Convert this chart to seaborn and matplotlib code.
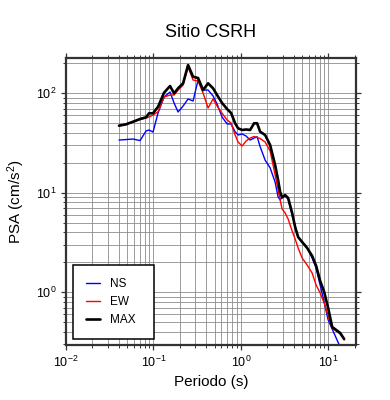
import matplotlib
matplotlib.use("Agg")
import matplotlib.pyplot as plt
import numpy as np
import pandas as pd
import seaborn as sns

# periods (s) and spectral accelerations (cm/s2)
periodo = [0.0404, 0.0486, 0.0584, 0.0703, 0.0823, 0.0891, 0.0989, 0.1129, 0.1322, 0.1548,
           0.1721, 0.1912, 0.2182, 0.2488, 0.2838, 0.3238, 0.3694, 0.4213, 0.4806, 0.5340,
           0.6092, 0.6950, 0.7724, 0.8584, 0.9289, 1.032, 1.147, 1.274, 1.416, 1.532,
           1.659, 1.892, 2.159, 2.462, 2.665, 2.809, 2.961, 3.203, 3.467, 3.853,
           4.170, 4.512, 5.014, 5.720, 6.525, 7.252, 8.058, 8.952, 9.947, 11.05,
           12.28, 13.65, 15.16]

psa_ns = [33.9, 34.3, 34.7, 33.5, 41.8, 42.8, 40.8, 63.4, 91.8, 103.1,
          79.9, 64.9, 74.5, 87.7, 83.7, 136.0, 107.9, 107.9, 94.0, 78.1,
          57.8, 49.2, 49.2, 41.1, 38.1, 39.0, 37.2, 33.9, 35.5, 36.6,
          29.1, 21.3, 17.8, 12.8, 9.07, 8.47, 9.07, 9.29, 8.66, 5.98,
          4.64, 3.59, 3.20, 2.79, 2.21, 1.75, 1.18, 0.799, 0.527, 0.428,
          0.347, 0.282, np.nan]

psa_ew = [46.9, 48.6, 51.5, 54.5, 56.5, 57.8, 60.5, 65.3, 91.8, 96.1,
          96.1, 107.9, 121.2, 183.8, 136.0, 132.9, 100.7, 71.2, 87.7, 74.5,
          63.0, 53.9, 50.3, 38.1, 32.4, 29.5, 33.2, 35.5, 36.8, 36.0,
          35.1, 32.4, 26.3, 15.1, 10.7, 8.47, 6.87, 6.27, 5.45, 4.13,
          3.43, 2.79, 2.21, 1.88, 1.56, 1.18, 0.984, 0.781, 0.578, 0.438,
          0.408, 0.381, 0.332]

psa_max = [47.3, 48.8, 51.8, 55.2, 57.4, 63.0, 63.0, 73.3, 101.4, 118.4,
           100.0, 112.3, 126.0, 192.5, 146.8, 142.5, 107.9, 126.0, 112.3, 96.1,
           79.9, 69.5, 63.4, 50.0, 44.5, 42.8, 43.3, 42.8, 50.0, 50.0,
           41.1, 38.1, 30.2, 19.0, 13.4, 10.2, 8.97, 9.50, 8.87, 6.27,
           4.53, 3.59, 3.20, 2.79, 2.32, 1.84, 1.30, 1.01, 0.695, 0.448,
           0.418, 0.390, 0.339]

df = pd.DataFrame({"periodo": periodo, "NS": psa_ns, "EW": psa_ew, "MAX": psa_max})

sns.set_style("ticks")
plt.rcParams["font.family"] = ["Liberation Sans", "DejaVu Sans"]
plt.rcParams["mathtext.fontset"] = "custom"
plt.rcParams["mathtext.rm"] = "Liberation Sans"
plt.rcParams["mathtext.it"] = "Liberation Sans:italic"
plt.rcParams["text.color"] = "black"
plt.rcParams["axes.labelcolor"] = "black"
plt.rcParams["xtick.labelcolor"] = "black"
plt.rcParams["ytick.labelcolor"] = "black"

fig = plt.figure(figsize=(3.9, 4.0), dpi=100)
ax = fig.add_axes([0.1692, 0.1375, 0.7436, 0.7187])

sns.lineplot(data=df, x="periodo", y="NS", color="blue", lw=1.0, label="NS", ax=ax)
sns.lineplot(data=df, x="periodo", y="EW", color="red", lw=1.0, label="EW", ax=ax)
sns.lineplot(data=df, x="periodo", y="MAX", color="black", lw=1.9, label="MAX", ax=ax)

ax.set_xscale("log")
ax.set_yscale("log")
ax.set_xlim(0.01, 20.7)
ax.set_ylim(0.295, 229)

ax.grid(True, which="both", color="#8c8c8c", lw=0.6)
ax.set_axisbelow(True)
for s in ax.spines.values():
    s.set_linewidth(1.6)
    s.set_color("#333333")
ax.tick_params(which="both", top=True, right=True, direction="out", color="#333333",
               labelsize=9)
ax.tick_params(which="major", length=3.5, width=0.9)
ax.tick_params(which="minor", length=2, width=0.7)

ax.set_title("Sitio CSRH", fontsize=13, pad=15)
ax.set_xlabel("Periodo (s)", fontsize=11, labelpad=4)
ax.set_ylabel("PSA (cm/s$^2$)", fontsize=11, labelpad=6)

leg = ax.legend(loc="lower left", bbox_to_anchor=(0.024, 0.021, 0.279, 0.25),
                mode="expand", borderaxespad=0, fontsize=8.5, frameon=True,
                fancybox=False, edgecolor="black", framealpha=1,
                handlelength=1.2, handletextpad=0.85, labelspacing=0.5, borderpad=1.1)
leg.get_frame().set_linewidth(1.1)

fig.savefig("out.png", dpi=100)
